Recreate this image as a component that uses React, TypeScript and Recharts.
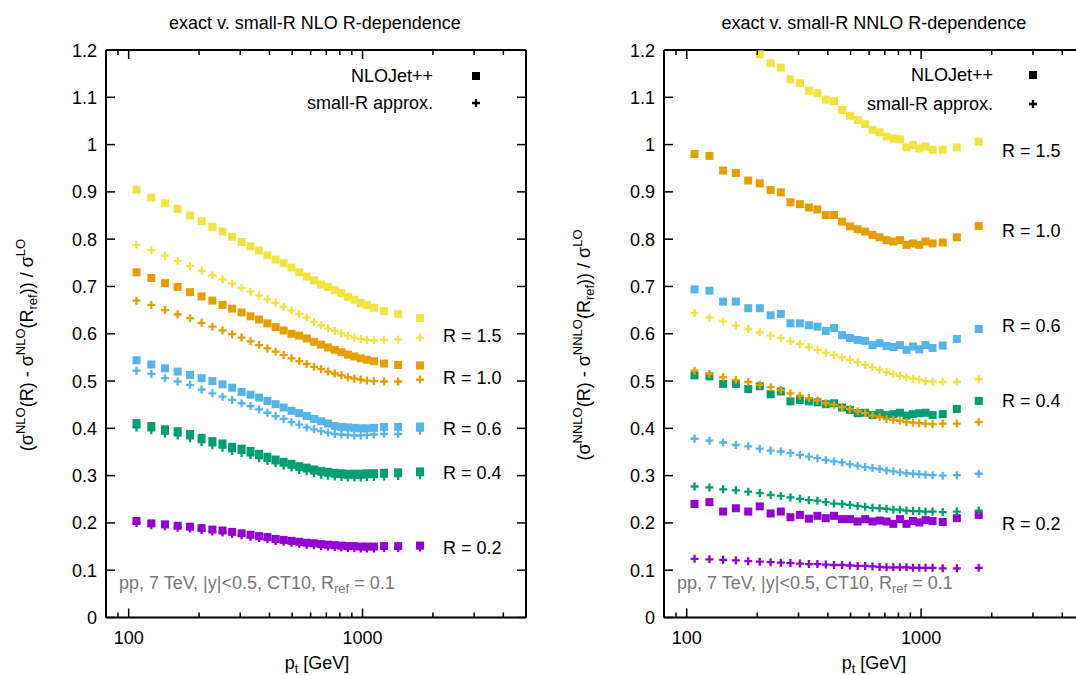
import React from 'react';
import { ScatterChart, Scatter, XAxis, YAxis } from 'recharts';

// pt bin centres [GeV]
const PT = [108, 125, 143, 162, 183, 205, 228, 252, 277, 304, 332, 361, 392, 425, 460, 497, 536, 577, 620, 665, 712, 761, 812, 866, 923, 982, 1044, 1119, 1236, 1420, 1761];

// left panel: NLO
const nloSqR15 = [0.905, 0.888, 0.876, 0.864, 0.850, 0.838, 0.826, 0.816, 0.805, 0.794, 0.785, 0.776, 0.766, 0.757, 0.749, 0.740, 0.730, 0.721, 0.713, 0.704, 0.699, 0.692, 0.686, 0.678, 0.672, 0.665, 0.661, 0.655, 0.648, 0.642, 0.633];
const nloPlR15 = [0.788, 0.777, 0.765, 0.754, 0.743, 0.733, 0.724, 0.715, 0.706, 0.697, 0.689, 0.681, 0.673, 0.665, 0.657, 0.649, 0.642, 0.634, 0.625, 0.618, 0.611, 0.606, 0.601, 0.596, 0.592, 0.589, 0.587, 0.586, 0.587, 0.588, 0.592];
const nloSqR10 = [0.730, 0.718, 0.707, 0.699, 0.688, 0.679, 0.670, 0.661, 0.653, 0.645, 0.637, 0.630, 0.622, 0.614, 0.607, 0.600, 0.596, 0.590, 0.583, 0.577, 0.571, 0.566, 0.561, 0.556, 0.552, 0.548, 0.545, 0.542, 0.537, 0.534, 0.533];
const nloPlR10 = [0.670, 0.661, 0.650, 0.641, 0.633, 0.623, 0.615, 0.607, 0.599, 0.592, 0.584, 0.576, 0.569, 0.562, 0.555, 0.548, 0.542, 0.536, 0.530, 0.525, 0.520, 0.516, 0.512, 0.508, 0.505, 0.503, 0.501, 0.500, 0.499, 0.499, 0.503];
const nloSqR06 = [0.544, 0.535, 0.527, 0.520, 0.513, 0.506, 0.500, 0.493, 0.486, 0.477, 0.471, 0.465, 0.458, 0.451, 0.444, 0.437, 0.432, 0.426, 0.420, 0.415, 0.410, 0.405, 0.403, 0.402, 0.401, 0.400, 0.400, 0.401, 0.403, 0.403, 0.404];
const nloPlR06 = [0.522, 0.515, 0.506, 0.499, 0.492, 0.482, 0.474, 0.467, 0.460, 0.453, 0.447, 0.440, 0.433, 0.426, 0.420, 0.413, 0.408, 0.402, 0.398, 0.394, 0.391, 0.388, 0.387, 0.386, 0.385, 0.385, 0.386, 0.387, 0.388, 0.388, 0.395];
const nloSqR04 = [0.411, 0.405, 0.398, 0.394, 0.388, 0.380, 0.373, 0.368, 0.361, 0.357, 0.352, 0.346, 0.340, 0.334, 0.329, 0.325, 0.320, 0.317, 0.313, 0.310, 0.308, 0.306, 0.305, 0.304, 0.304, 0.304, 0.305, 0.305, 0.306, 0.307, 0.309];
const nloPlR04 = [0.402, 0.396, 0.389, 0.385, 0.379, 0.371, 0.364, 0.359, 0.352, 0.348, 0.343, 0.337, 0.331, 0.326, 0.321, 0.317, 0.312, 0.309, 0.305, 0.302, 0.300, 0.298, 0.297, 0.296, 0.296, 0.296, 0.297, 0.297, 0.298, 0.299, 0.301];
const nloSqR02 = [0.204, 0.199, 0.197, 0.194, 0.192, 0.189, 0.186, 0.184, 0.181, 0.178, 0.175, 0.172, 0.170, 0.166, 0.164, 0.162, 0.160, 0.158, 0.157, 0.155, 0.154, 0.153, 0.152, 0.151, 0.151, 0.150, 0.150, 0.150, 0.151, 0.151, 0.152];
const nloPlR02 = [0.200, 0.195, 0.193, 0.190, 0.188, 0.185, 0.182, 0.180, 0.177, 0.174, 0.171, 0.168, 0.166, 0.162, 0.160, 0.158, 0.156, 0.154, 0.153, 0.151, 0.150, 0.149, 0.148, 0.147, 0.147, 0.146, 0.146, 0.146, 0.147, 0.147, 0.148];

// right panel: NNLO (first R=1.5 points lie above the frame)
const nnloSqR15 = [null, null, null, null, null, 1.191, 1.172, 1.163, 1.138, 1.130, 1.114, 1.109, 1.095, 1.092, 1.073, 1.061, 1.052, 1.043, 1.031, 1.026, 1.017, 1.013, 1.011, 0.994, 0.999, 0.992, 0.996, 0.989, 0.989, 0.994, 1.006];
const nnloPlR15 = [0.644, 0.634, 0.626, 0.617, 0.610, 0.603, 0.596, 0.591, 0.584, 0.578, 0.572, 0.566, 0.560, 0.555, 0.550, 0.545, 0.540, 0.534, 0.529, 0.524, 0.519, 0.515, 0.511, 0.508, 0.505, 0.503, 0.500, 0.499, 0.498, 0.498, 0.504];
const nnloSqR10 = [0.980, 0.976, 0.945, 0.940, 0.924, 0.918, 0.904, 0.899, 0.878, 0.874, 0.867, 0.863, 0.851, 0.851, 0.837, 0.827, 0.821, 0.816, 0.809, 0.804, 0.798, 0.795, 0.798, 0.788, 0.791, 0.788, 0.795, 0.791, 0.793, 0.804, 0.828];
const nnloPlR10 = [0.522, 0.515, 0.508, 0.502, 0.498, 0.492, 0.487, 0.481, 0.474, 0.469, 0.464, 0.459, 0.453, 0.450, 0.445, 0.441, 0.436, 0.432, 0.427, 0.424, 0.420, 0.418, 0.416, 0.413, 0.412, 0.411, 0.410, 0.409, 0.410, 0.410, 0.413];
const nnloSqR06 = [0.694, 0.691, 0.668, 0.668, 0.654, 0.654, 0.639, 0.642, 0.622, 0.622, 0.618, 0.615, 0.606, 0.612, 0.597, 0.591, 0.587, 0.585, 0.576, 0.580, 0.574, 0.572, 0.576, 0.566, 0.573, 0.567, 0.576, 0.570, 0.575, 0.589, 0.610];
const nnloPlR06 = [0.378, 0.374, 0.370, 0.365, 0.362, 0.357, 0.353, 0.351, 0.348, 0.344, 0.340, 0.337, 0.333, 0.330, 0.328, 0.324, 0.321, 0.318, 0.316, 0.314, 0.311, 0.309, 0.307, 0.305, 0.304, 0.303, 0.302, 0.301, 0.300, 0.301, 0.304];
const nnloSqR04 = [0.512, 0.510, 0.494, 0.494, 0.483, 0.489, 0.472, 0.478, 0.457, 0.460, 0.457, 0.455, 0.451, 0.453, 0.444, 0.439, 0.432, 0.433, 0.428, 0.432, 0.428, 0.430, 0.433, 0.427, 0.430, 0.432, 0.433, 0.428, 0.430, 0.441, 0.458];
const nnloPlR04 = [0.277, 0.275, 0.271, 0.269, 0.266, 0.263, 0.259, 0.257, 0.254, 0.251, 0.248, 0.247, 0.244, 0.241, 0.240, 0.238, 0.236, 0.234, 0.232, 0.231, 0.230, 0.228, 0.228, 0.226, 0.225, 0.225, 0.224, 0.224, 0.223, 0.224, 0.226];
const nnloSqR02 = [0.240, 0.244, 0.224, 0.231, 0.224, 0.235, 0.220, 0.224, 0.212, 0.217, 0.209, 0.215, 0.210, 0.215, 0.208, 0.208, 0.203, 0.208, 0.203, 0.205, 0.203, 0.198, 0.208, 0.198, 0.204, 0.201, 0.206, 0.204, 0.202, 0.210, 0.217];
const nnloPlR02 = [0.124, 0.123, 0.122, 0.121, 0.119, 0.118, 0.117, 0.116, 0.115, 0.114, 0.113, 0.113, 0.112, 0.111, 0.111, 0.110, 0.109, 0.109, 0.108, 0.107, 0.106, 0.106, 0.106, 0.106, 0.105, 0.105, 0.105, 0.105, 0.104, 0.104, 0.105];

const X_TICKS = [80, 90, 100, 200, 300, 400, 500, 600, 700, 800, 900, 1000, 2000, 3000, 4000, 5000];
const X_LABELS = [100, 1000];
const Y_TICKS = [0, 0.1, 0.2, 0.3, 0.4, 0.5, 0.6, 0.7, 0.8, 0.9, 1.0, 1.1, 1.2];

const COL = {
  r02: '#9400d3',
  r04: '#009e73',
  r06: '#56b4e9',
  r10: '#e69f00',
  r15: '#f0e442',
};

const FONT = '"Liberation Sans", Arial, Helvetica, sans-serif';
const FS = 18;
const MK = 8; // marker size

const toPoints = (ys: (number | null)[]) =>
  PT.map((x, i) => ({ x, y: ys[i] })).filter((p) => p.y !== null);

const squareShape = (color: string) => (props: any) =>
  <rect x={props.cx - MK / 2} y={props.cy - MK / 2} width={MK} height={MK} fill={color} />;

const plusShape = (color: string) => (props: any) =>
  <path d={`M${props.cx - MK / 2},${props.cy}h${MK}M${props.cx},${props.cy - MK / 2}v${MK}`} stroke={color} strokeWidth={2.3} fill="none" />;

type Series = { ys: (number | null)[]; color: string; kind: 'sq' | 'pl' };

// drawing order: per R, small-R points first, NLOJet++ squares over them
const leftSeries: Series[] = [
  { ys: nloPlR02, color: COL.r02, kind: 'pl' }, { ys: nloSqR02, color: COL.r02, kind: 'sq' },
  { ys: nloPlR04, color: COL.r04, kind: 'pl' }, { ys: nloSqR04, color: COL.r04, kind: 'sq' },
  { ys: nloPlR06, color: COL.r06, kind: 'pl' }, { ys: nloSqR06, color: COL.r06, kind: 'sq' },
  { ys: nloPlR10, color: COL.r10, kind: 'pl' }, { ys: nloSqR10, color: COL.r10, kind: 'sq' },
  { ys: nloPlR15, color: COL.r15, kind: 'pl' }, { ys: nloSqR15, color: COL.r15, kind: 'sq' },
];
const rightSeries: Series[] = [
  { ys: nnloPlR02, color: COL.r02, kind: 'pl' }, { ys: nnloSqR02, color: COL.r02, kind: 'sq' },
  { ys: nnloPlR04, color: COL.r04, kind: 'pl' }, { ys: nnloSqR04, color: COL.r04, kind: 'sq' },
  { ys: nnloPlR06, color: COL.r06, kind: 'pl' }, { ys: nnloSqR06, color: COL.r06, kind: 'sq' },
  { ys: nnloPlR10, color: COL.r10, kind: 'pl' }, { ys: nnloSqR10, color: COL.r10, kind: 'sq' },
  { ys: nnloPlR15, color: COL.r15, kind: 'pl' }, { ys: nnloSqR15, color: COL.r15, kind: 'sq' },
];

const isMajor = (v: number) => X_LABELS.includes(v);

const BottomTick = (props: any) => {
  const { x, y, payload } = props;
  const v = payload.value;
  return (
    <g>
      <line x1={x} x2={x} y1={y} y2={y - (isMajor(v) ? 9 : 5)} stroke="#000" strokeWidth={1.5} />
      {isMajor(v) && (
        <text x={x} y={y + 26} textAnchor="middle" fontSize={FS} fontFamily={FONT} fill="#000">{v}</text>
      )}
    </g>
  );
};

const TopTick = (props: any) => {
  const { x, y, payload } = props;
  const v = payload.value;
  return <line x1={x} x2={x} y1={y} y2={y + (isMajor(v) ? 9 : 5)} stroke="#000" strokeWidth={1.5} />;
};

const LeftTick = (props: any) => {
  const { x, y, payload } = props;
  const label = String(Number(Number(payload.value).toFixed(1)));
  return (
    <g>
      <line x1={x} x2={x + 9} y1={y} y2={y} stroke="#000" strokeWidth={1.5} />
      <text x={x - 9} y={y + 6.5} textAnchor="end" fontSize={FS} fontFamily={FONT} fill="#000">{label}</text>
    </g>
  );
};

const RightTick = (props: any) => {
  const { x, y } = props;
  return <line x1={x} x2={x - 9} y1={y} y2={y} stroke="#000" strokeWidth={1.5} />;
};

const AX_LINE = { stroke: '#000', strokeWidth: 2 };

function Panel({ series, left, width, plotLeft, plotRight }: { series: Series[]; left: number; width: number; plotLeft: number; plotRight: number }) {
  // axes take fixed room; margins make the plot frame land on plotLeft..plotRight, y 50..617.5
  const yw = 40;
  const rw = 10;
  const xh = 30;
  const th = 10;
  const margin = { top: 50 - th, bottom: 57.5 - xh, left: plotLeft - yw, right: width - plotRight - rw };
  return (
    <div style={{ position: 'absolute', left, top: 0 }}>
      <ScatterChart width={width} height={675} margin={margin}>
        <XAxis dataKey="x" type="number" scale="log" domain={[80, 5000]} allowDataOverflow ticks={X_TICKS}
          height={xh} tickSize={0} tickMargin={0} tickLine={false} tick={<BottomTick />} interval={0}
          axisLine={AX_LINE} />
        <XAxis xAxisId="top" orientation="top" dataKey="x" type="number" scale="log" domain={[80, 5000]} allowDataOverflow
          ticks={X_TICKS} height={th} tickSize={0} tickMargin={0} tickLine={false} tick={<TopTick />} interval={0}
          axisLine={AX_LINE} />
        <YAxis dataKey="y" type="number" domain={[0, 1.2]} allowDataOverflow ticks={Y_TICKS} width={yw}
          tickSize={0} tickMargin={0} tickLine={false} tick={<LeftTick />} interval={0}
          axisLine={AX_LINE} />
        <YAxis yAxisId="r" orientation="right" dataKey="y" type="number" domain={[0, 1.2]} allowDataOverflow ticks={Y_TICKS}
          width={rw} tickSize={0} tickMargin={0} tickLine={false} tick={<RightTick />} interval={0}
          axisLine={AX_LINE} />
        {series.map((s, i) => (
          <Scatter key={i} data={toPoints(s.ys)} isAnimationActive={false}
            shape={s.kind === 'sq' ? squareShape(s.color) : plusShape(s.color)} />
        ))}
      </ScatterChart>
    </div>
  );
}

const txt = { fontFamily: FONT, fontSize: FS, fill: '#000' } as const;

function YLabel({ x, y, order }: { x: number; y: number; order: string }) {
  return (
    <text transform={`translate(${x},${y}) rotate(-90)`} textAnchor="middle" {...txt}>
      (σ<tspan dy={-8} fontSize={13}>{order}</tspan>
      <tspan dy={8}>(R) - σ</tspan>
      <tspan dy={-8} fontSize={13}>{order}</tspan>
      <tspan dy={8}>(R</tspan>
      <tspan dy={4} fontSize={13}>ref</tspan>
      <tspan dy={-4}>)) / σ</tspan>
      <tspan dy={-8} fontSize={13}>LO</tspan>
    </text>
  );
}

function Note({ x, y }: { x: number; y: number }) {
  return (
    <text x={x} y={y} fontFamily={FONT} fontSize={FS} fill="#777">
      pp, 7 TeV, |y|&lt;0.5, CT10, R<tspan dy={4} fontSize={13}>ref</tspan>
      <tspan dy={-4}> = 0.1</tspan>
    </text>
  );
}

function XLabel({ x, y }: { x: number; y: number }) {
  return (
    <text x={x} y={y} textAnchor="middle" {...txt}>
      p<tspan dy={4} fontSize={13}>t</tspan>
      <tspan dy={-4}> [GeV]</tspan>
    </text>
  );
}

function LegendBox({ textRight, markerX, y1, y2 }: { textRight: number; markerX: number; y1: number; y2: number }) {
  return (
    <g>
      <text x={textRight} y={y1 + 6} textAnchor="end" {...txt}>NLOJet++</text>
      <rect x={markerX - MK / 2} y={y1 - MK / 2} width={MK} height={MK} fill="#000" />
      <text x={textRight} y={y2 + 6} textAnchor="end" {...txt}>small-R approx.</text>
      <path d={`M${markerX - MK / 2},${y2}h${MK}M${markerX},${y2 - MK / 2}v${MK}`} stroke="#000" strokeWidth={2.3} />
    </g>
  );
}

const leftRLabels = [['R = 1.5', 341.5], ['R = 1.0', 383.5], ['R = 0.6', 434.5], ['R = 0.4', 478.5], ['R = 0.2', 553.5]] as const;
const rightRLabels = [['R = 1.5', 156.5], ['R = 1.0', 236.5], ['R = 0.6', 331.5], ['R = 0.4', 406.5], ['R = 0.2', 529.5]] as const;

export default function App() {
  return (
    <div style={{ position: 'absolute', left: 0, top: 0, width: 1076, height: 675, overflow: 'hidden', background: '#fff' }}>
      <Panel series={leftSeries} left={0} width={540} plotLeft={106} plotRight={526} />
      <Panel series={rightSeries} left={540} width={560} plotLeft={124} plotRight={545} />
      <svg width={1076} height={675} style={{ position: 'absolute', left: 0, top: 0, pointerEvents: 'none' }}>
        <text x={315} y={29} textAnchor="middle" {...txt}>exact v. small-R NLO R-dependence</text>
        <text x={874} y={29} textAnchor="middle" {...txt}>exact v. small-R NNLO R-dependence</text>
        <YLabel x={33} y={345} order="NLO" />
        <YLabel x={590} y={345} order="NNLO" />
        <XLabel x={317} y={669} />
        <XLabel x={874} y={669} />
        <LegendBox textRight={433} markerX={476} y1={76} y2={103} />
        <LegendBox textRight={993} markerX={1033} y1={75} y2={104} />
        {leftRLabels.map(([t, y]) => <text key={t} x={443} y={y} {...txt}>{t}</text>)}
        {rightRLabels.map(([t, y]) => <text key={t} x={1002} y={y} {...txt}>{t}</text>)}
        <Note x={119} y={588.5} />
        <Note x={677} y={588.5} />
      </svg>
    </div>
  );
}
